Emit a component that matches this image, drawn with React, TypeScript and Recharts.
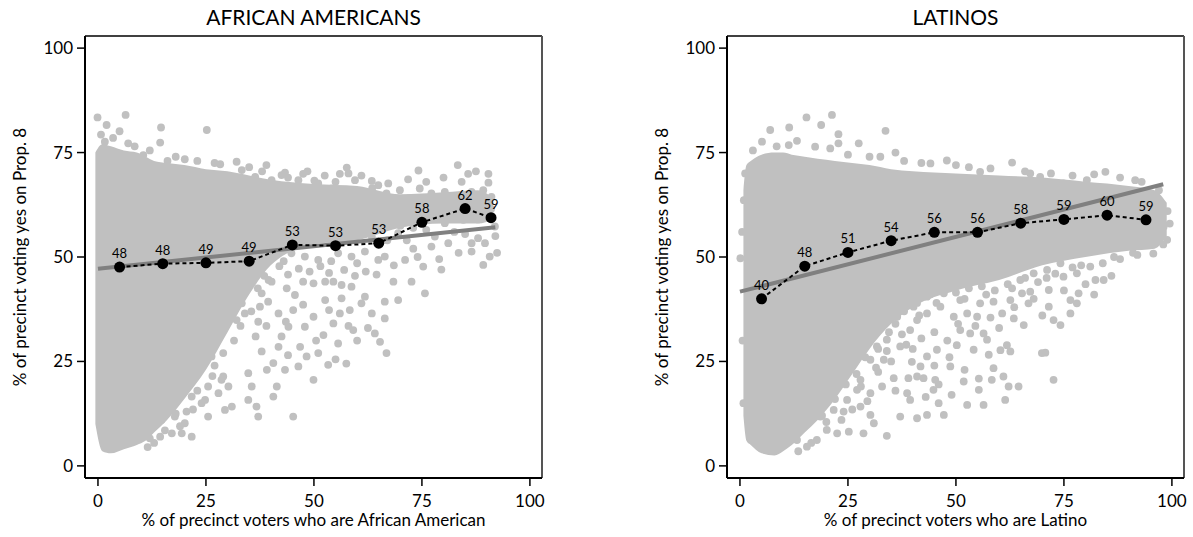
import React from "react";
import {
  ComposedChart, Scatter, Line, Area, XAxis, YAxis, ReferenceLine, LabelList,
} from "recharts";

// ---- African Americans panel ----
const aaBinX = [5, 15, 25, 35, 45, 55, 65, 75, 85, 91];
const aaBinY = [47.6, 48.4, 48.6, 49.0, 52.9, 52.7, 53.3, 58.3, 61.6, 59.4];
const aaFitX = [0, 92];
const aaFitY = [47.2, 57.1];

// dense core of the cloud, read as a lower / upper envelope
const aaCoreX = [-0.6, 1, 3, 6, 9, 11, 13, 16, 20, 25, 30, 35, 40, 50, 60, 70, 80, 88, 91.5];
const aaCoreLow = [10, 3.5, 3, 4, 5, 6, 8, 11, 16, 23, 32, 41, 48, 53, 54, 57, 58, 58, 59];
const aaCoreHigh = [75, 77, 76.5, 75.5, 75, 74, 73, 72.5, 72, 71, 70.5, 69.5, 68.5, 67.5, 67, 65, 65.5, 66, 64];

// scattered precincts outside the core
const aaPoints: [number, number][] = [
  [-0.1, 83.4], [6.4, 84], [2, 81.6], [14.6, 81], [5, 80.1], [25.2, 80.4], [0.7, 79.3], [14.4, 77.4],
  [1.6, 77.6], [7, 77.2], [10.5, 74.4], [20.1, 73.4], [16.1, 73], [28.3, 72.2], [32.1, 72.8], [39, 72],
  [57.6, 71.4], [43.3, 70.2], [47.5, 69.9], [74.2, 70.7], [83.3, 72], [85.7, 69.9], [90.4, 69.9], [71.8, 68.6],
  [90.4, 67.8], [56, 69.9], [50.1, 68.3], [63.4, 68.2], [67.2, 67.6], [80.3, 65.6], [89.2, 66],
  [33.3, 70.8], [36.4, 69.2], [40.2, 68.4], [42.5, 69.6], [46.4, 68.4], [51, 67.6], [54.1, 66.4], [59.5, 68.4],
  [61.8, 64.8], [61, 60.8], [35, 71.5], [38, 70.5], [44, 69], [48.5, 70.5], [52.5, 69.5], [55, 68],
  [58, 70], [61, 69.5], [63.5, 66.5], [3.5, 78.5], [8.5, 76.5], [12, 75.5], [18, 74], [23, 73], [27, 72.5],
  [64.9, 67.2], [66.8, 65.2], [69.9, 66], [74.5, 66.4], [77.2, 65.2], [81.1, 63.6], [84.2, 68], [86.5, 65.6],
  [88.4, 63.6], [91.1, 64.4], [91.9, 57.3], [71.1, 62.1], [68, 59.7], [74.2, 59.7], [80.3, 58.1], [78.8, 61.2],
  [84.6, 58.9], [89.6, 60.5], [69.5, 55.7], [78, 54.9], [81.1, 53.3], [86.5, 51.3], [89.6, 53.3], [89.2, 48.1],
  [92.4, 51], [90.7, 50.1], [75.3, 47.7], [71.1, 49.3], [66.4, 50.1], [72.6, 44.1], [75.7, 41.3], [69.5, 39.7],
  [66.4, 39.3], [68.4, 44.1], [64.9, 49.3], [86.5, 53.3], [77.2, 52.5], [72, 64], [76, 62.5], [83, 61],
  [87, 62], [70, 57.5], [82.5, 56], [73, 52], [67, 54], [85, 55.5], [79, 49.5],
  [65.5, 58], [67.5, 62.5], [70.5, 60.5], [73, 57], [76, 56.5], [79.5, 59.5], [82, 62.5], [84.5, 64],
  [88, 59], [91, 61.5], [76, 68], [80, 69], [87.5, 70.5], [74, 50], [79.5, 47], [83.5, 51],
  [88, 54.5], [92, 55], [68.5, 48], [71.5, 54],
  [37.1, 50.1], [41.4, 53.3], [47.9, 50.1], [51, 49.3], [55.6, 50.9], [58.7, 50.1], [61.8, 51.3], [44.8, 50.9],
  [37.1, 54.1], [63.4, 54.9], [36, 47], [38.5, 45.5], [42, 47.8], [44, 45.8], [46.5, 47.2], [49, 46.5],
  [51.5, 47.8], [53.5, 46.2], [57, 46.9], [59.5, 45.5], [62, 46.5], [64.5, 45.8], [39, 49.5], [43, 49],
  [54, 49], [60, 48.5],
  [40.2, 44.1], [37.9, 41.3], [43.7, 42.5], [47.5, 44.1], [49.9, 43.7], [52.6, 44.1], [54.5, 44.1], [56.4, 43.3],
  [58.7, 42.9], [61.8, 40.5], [63.4, 36.5], [66.4, 35.3], [61, 38.9], [58.3, 37.3], [56.4, 40.1], [52.6, 39.7],
  [45.6, 40.9], [39.4, 39.3], [37.5, 38.1], [41.8, 36.5], [45.2, 37.3], [49.9, 35.7], [54.5, 34.1], [59.1, 32.5],
  [64.1, 31.7], [65.3, 29.7], [66.8, 27], [55.6, 29.3], [52.2, 31.3], [47.9, 33.3], [44.1, 33.3], [37.1, 34.5],
  [46.8, 28.5], [41.8, 28.5], [37.9, 27.4], [48.3, 26.2], [46.4, 23.8], [43.3, 23], [40.6, 24.6], [53.3, 24.2],
  [49.9, 20.6], [39.1, 23], [45.2, 11.8], [37.1, 11.8], [41.4, 19], [40.6, 16.6],
  [42.5, 31], [44, 26.5], [50.5, 30], [56, 36.5], [58, 33.5], [60, 30], [62.5, 33], [53.5, 37.3],
  [47.5, 38.6], [39, 33.5], [36.5, 31], [55, 25.5], [51, 27], [57.5, 24.5], [43.5, 34.5],
  [11.5, 4.5], [13, 5.5], [15.5, 8.5], [18, 12.5], [20.5, 13], [23, 18], [25.5, 19], [27, 24],
  [29, 27], [31.5, 30], [33, 33.5], [35.5, 37], [37, 42.5], [39.5, 44.5], [24, 15], [26.5, 21.5],
  [22, 13.5], [19, 9.5],
  [31, 41.3], [33.3, 38.9], [34, 36.5], [32.1, 34.9], [28.6, 36.5], [24.4, 28.6], [26.3, 26.2],
  [28.6, 20.6], [30.2, 19], [27.9, 17.4], [24.8, 15.8], [21.7, 16.6], [18.6, 17.4],
  [14.7, 11], [17.8, 11.8], [20.1, 10.2], [17.1, 7.8], [14.4, 7], [12, 6.6], [9.7, 6.6],
  [21.7, 7], [19.4, 7.8], [34.8, 22.2], [35.6, 19], [34.8, 15.8], [36.7, 14.2], [31, 14.2], [29.4, 13.4],
  [29, 21.4], [25.5, 11.8], [33.3, 46.1], [31, 45.3],
];

// ---- Latinos panel ----
const laBinX = [5, 15, 25, 35, 45, 55, 65, 75, 85, 94];
const laBinY = [40.0, 47.8, 51.1, 53.9, 55.9, 55.9, 58.1, 59.0, 60.0, 58.9];
const laFitX = [0, 98];
const laFitY = [41.7, 67.4];

const laCoreX = [0.8, 1.5, 2.5, 5, 8, 10, 12, 15, 18, 22, 26, 30, 35, 40, 50, 60, 70, 80, 90, 96, 98.8];
const laCoreLow = [12, 6, 5, 3, 2.5, 3.5, 5, 8, 11, 16, 22, 28, 34, 38, 42, 44.5, 48, 50, 51.5, 52, 55];
const laCoreHigh = [66, 72, 73, 74.5, 75, 75, 74.5, 74, 73.5, 73, 72.5, 72, 71, 70.5, 70, 69.5, 69, 68, 67, 66, 63];

const laPoints: [number, number][] = [
  [7, 80.4], [11.4, 81], [15.4, 83.4], [18.8, 81.6], [21.3, 84], [33.7, 80.2], [22.8, 79.4], [5.1, 77.6],
  [13.2, 77.8], [11.3, 76.8], [17.4, 76.4], [20.9, 76], [27.5, 77.2], [22.8, 77.2], [32.5, 74], [36, 75],
  [47.9, 73.1], [63, 72.6], [44.1, 72.4], [55.6, 70.4], [67.2, 70], [69.5, 69.2], [84.6, 70.4], [91.5, 68.4],
  [80.3, 68.4], [74.9, 67.6], [96.5, 63.6], [98.1, 57.3], [98.9, 54.1], [0.1, 49.7], [0.9, 63.6],
  [25, 74.5], [30, 74], [38, 73], [42, 72.5], [50, 72], [53, 71.5], [58, 71.2], [66, 70.5],
  [72, 70], [77, 69.5], [82, 69.8], [88, 69], [93, 68], [97, 66], [99, 61], [99.5, 58],
  [91, 51], [95.7, 50.8], [98, 53], [86.6, 50], [3, 75.5], [8.5, 76.5], [1.2, 70], [0.5, 56], [0.6, 30], [0.8, 15],
  [84.2, 44.5], [82.3, 44.5], [81.1, 47.7], [78, 46.1], [74.2, 48.5], [74.9, 45.3], [71.1, 46.9], [68, 46.1],
  [64.9, 44.5], [71.5, 42.1], [76.5, 39.7], [78.4, 41.3], [78, 38.9], [76.5, 36.5], [71.5, 38.1], [72.6, 34.9],
  [74.2, 33.7], [66.8, 38.9], [65.3, 41.3], [67.2, 41.7], [65.7, 33.7], [60.7, 36.5], [63.4, 35.3], [62.6, 39.7],
  [58.7, 39.3], [55.6, 38.9], [54.9, 35.7], [56.4, 31.7], [53.3, 31.7], [51, 32.5], [50.2, 28.9], [54.1, 27.8],
  [57.2, 30.2], [61.8, 28.9], [62.6, 27.4], [60.3, 27.7], [57.6, 26.6], [69.9, 27], [70.7, 27.1], [72.6, 20.6],
  [58.7, 23.4], [55.3, 20.9], [51.8, 20.2], [58.3, 20.6], [61, 21.4], [62.2, 19], [64.5, 19], [61.4, 15.8],
  [56.4, 14.6], [52.6, 14.6], [55.3, 18.2], [45.6, 27.8], [43.3, 26.2], [39.8, 24.9], [41.8, 23.8], [45.2, 20.6],
  [48.7, 23.8], [42.5, 21], [41, 21.4], [44.8, 18.2], [38.7, 17.4], [39.4, 15.8], [37.1, 11.8], [41, 11.4],
  [43.3, 12.2], [47.2, 12.2], [46, 15], [34, 7.2], [28.6, 7.8], [25.2, 8.2], [31, 10.2], [35.6, 21],
  [32.9, 19], [30.2, 17.4], [30.2, 12.2], [27.9, 14.2], [22.5, 7.8], [20.1, 8.6], [17.8, 6.2], [15.5, 4.6],
  [13.2, 6.2], [12, 9], [15.1, 11], [18.6, 11.8], [21.7, 13.4], [24.8, 15.8], [27.1, 18.2], [27.9, 20.6],
  [33.3, 38.1], [36.4, 35.7], [32.5, 33.3], [34, 30.2], [37.1, 28.6], [31.7, 28.6], [30.2, 25.4], [33.3, 25.4],
  [39.4, 32.5], [41, 34.9], [43.3, 36.5], [46.4, 38.1], [49.5, 35.7],
  [52.6, 36.5], [51, 39.7], [47.2, 41.3], [43.3, 40.5], [40.2, 41.3], [37.1, 39.7], [40.2, 38.1],
  [38.7, 43.7], [41.8, 44.1], [44.8, 44.5], [47.9, 45.3],
  [19, 12], [22, 16], [24.5, 19.5], [27, 22], [29, 26], [32, 28], [34.5, 32], [36, 34],
  [38, 37], [41, 39], [44, 41], [47, 43], [50, 41.5], [53, 42.5], [56, 43], [59, 42],
  [62, 43.5], [66, 45], [69, 44], [73, 46], [77, 47.5], [84, 48.5], [88, 49.5],
  [23.5, 11], [26, 13.5], [29.5, 15.5], [32, 22.5], [35, 25], [38.5, 29], [42, 30.5], [45, 32],
  [48, 30], [50.5, 34], [54.5, 33.5], [58, 35.5], [60, 33], [63.5, 38], [68, 40], [70, 36],
  [75, 42], [80, 43.5], [82, 41], [86, 45.5],
  [36, 18], [39, 21], [43, 16.5], [46, 19.5], [49, 17], [48.5, 26], [52, 23], [45, 24], [40, 28],
  [13.5, 3.5], [16.5, 5.5], [20, 10.5], [24, 13], [28, 19], [31.5, 23.5], [34, 27.5], [37.5, 31.5],
  [41.5, 36], [45.5, 39], [52, 40], [57, 41], [63, 42.5], [71, 45], [79, 48], [92, 50.5],
];

const GRAY = "#c0c0c0";
const FONT = "Lato, 'Open Sans', sans-serif";
const X_DOMAIN = [-3, 102.8];
const Y_DOMAIN = [-2.9, 102.9];
const TICKS = [0, 25, 50, 75, 100];

const toXY = (xs: number[], ys: number[]) => xs.map((x, i) => ({ x, y: ys[i] }));

// eslint-disable-next-line @typescript-eslint/no-explicit-any
const Dot = (p: any) => <circle cx={p.cx} cy={p.cy} r={3.9} fill={GRAY} />;

function Panel({
  title, xTitle, coreX, coreLow, coreHigh, points, binX, binY, fitX, fitY, width, left, plotLeft,
}: {
  title: string; xTitle: string; coreX: number[]; coreLow: number[]; coreHigh: number[];
  points: [number, number][]; binX: number[]; binY: number[]; fitX: number[]; fitY: number[];
  width: number; left: number; plotLeft: number;
}) {
  const core = coreX.map((x, i) => ({ x, range: [coreLow[i], coreHigh[i]] }));
  const cloud = points.map(([x, y]) => ({ x, y }));
  const plotRight = plotLeft + 457;
  return (
    <div style={{ position: "absolute", left, top: 0, width, height: 537 }}>
      <div style={{
        position: "absolute", top: 4, left: plotLeft, width: 457, textAlign: "center",
        fontFamily: FONT, fontSize: 21, color: "#000",
      }}>
        {title}
      </div>
      <ComposedChart
        width={width} height={537}
        margin={{ top: 36, right: width - plotRight, bottom: 9, left: plotLeft - 85 }}
      >
        <XAxis
          type="number" dataKey="x" domain={X_DOMAIN} ticks={TICKS} allowDataOverflow
          height={50} tickSize={8} tickMargin={9}
          axisLine={{ stroke: "#000", strokeWidth: 2 }} tickLine={{ stroke: "#000", strokeWidth: 1.5 }}
          tick={{ fill: "#000", fontSize: 17, fontFamily: FONT }}
          label={{ value: xTitle, position: "insideBottom", offset: 2, fill: "#000", fontSize: 17, fontFamily: FONT }}
        />
        <YAxis
          type="number" domain={Y_DOMAIN} ticks={TICKS} allowDataOverflow
          width={85} tickSize={8} tickMargin={4}
          axisLine={{ stroke: "#000", strokeWidth: 2 }} tickLine={{ stroke: "#000", strokeWidth: 1.5 }}
          tick={{ fill: "#000", fontSize: 17, fontFamily: FONT }}
          label={{
            // eslint-disable-next-line @typescript-eslint/no-explicit-any
            content: (props: any) => {
              const vb = props.viewBox;
              const cx = vb.x + 26;
              const cy = vb.y + vb.height / 2;
              return (
                <text x={cx} y={cy} transform={`rotate(-90, ${cx}, ${cy})`} textAnchor="middle"
                  fill="#000" fontSize={17} fontFamily={FONT}>
                  % of precinct voting yes on Prop. 8
                </text>
              );
            },
          }}
        />
        <ReferenceLine y={Y_DOMAIN[1]} stroke="#000" strokeWidth={1.5} />
        <ReferenceLine x={X_DOMAIN[1]} stroke="#555" strokeWidth={2} />
        <Area
          data={core} dataKey="range" type="monotone" stroke="none" fill={GRAY} fillOpacity={1}
          isAnimationActive={false} zIndex={100}
        />
        <Scatter data={cloud} dataKey="y" shape={Dot} isAnimationActive={false} zIndex={150} />
        <Line
          data={toXY(fitX, fitY)} dataKey="y" stroke="#808080" strokeWidth={4} dot={false}
          isAnimationActive={false} zIndex={400}
        />
        <Line
          data={toXY(binX, binY)} dataKey="y" stroke="#000" strokeWidth={2} strokeDasharray="4 3"
          dot={{ r: 5.5, fill: "#000", stroke: "#000", strokeWidth: 0 }}
          isAnimationActive={false} zIndex={450}
        >
          <LabelList
            dataKey="y" position="top" offset={9} fill="#000" fontSize={13} fontFamily={FONT}
            formatter={(v: number) => Math.round(v)}
          />
        </Line>
      </ComposedChart>
    </div>
  );
}

export default function App() {
  return (
    <div style={{
      position: "absolute", left: 0, top: 0, width: 1193, height: 537,
      overflow: "hidden", background: "#fff",
    }}>
      <Panel
        title="AFRICAN AMERICANS" xTitle="% of precinct voters who are African American"
        coreX={aaCoreX} coreLow={aaCoreLow} coreHigh={aaCoreHigh} points={aaPoints}
        binX={aaBinX} binY={aaBinY} fitX={aaFitX} fitY={aaFitY}
        width={596} left={0} plotLeft={85}
      />
      <Panel
        title="LATINOS" xTitle="% of precinct voters who are Latino"
        coreX={laCoreX} coreLow={laCoreLow} coreHigh={laCoreHigh} points={laPoints}
        binX={laBinX} binY={laBinY} fitX={laFitX} fitY={laFitY}
        width={597} left={596} plotLeft={131}
      />
    </div>
  );
}
